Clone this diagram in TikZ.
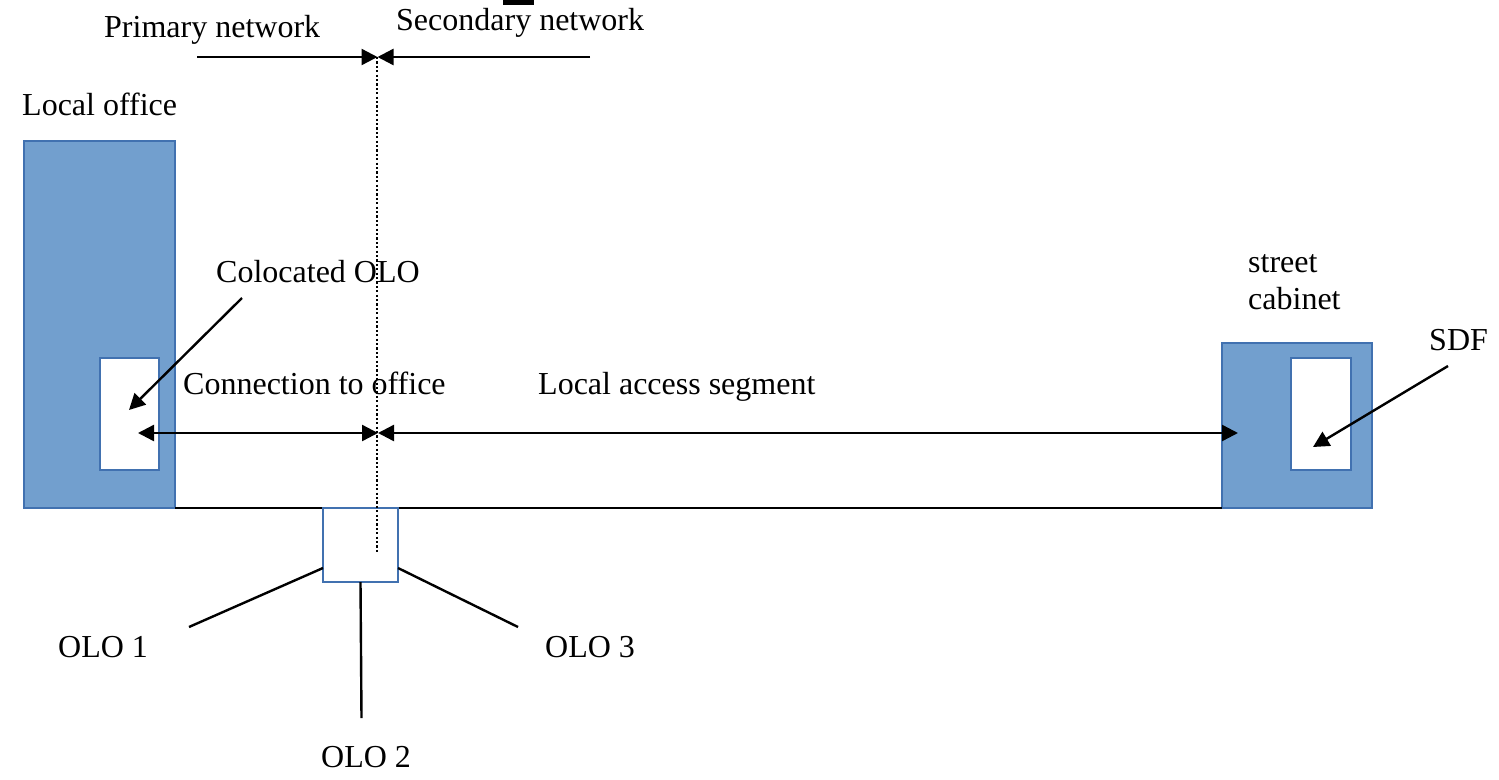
\documentclass[tikz,border=0pt]{standalone}
\usepackage{fontspec}
\setmainfont{Liberation Serif}
\usetikzlibrary{arrows.meta}
\definecolor{boxfill}{RGB}{114,159,206}
\definecolor{boxline}{RGB}{65,113,176}
\begin{document}
\begin{tikzpicture}[x=1pt,y=-1pt,
  lbl/.style={font=\fontsize{32}{38}\selectfont, inner sep=0pt, anchor=base west},
  site/.style={draw=boxline, fill=boxfill, line width=2pt, inner sep=0pt, outer sep=0pt, anchor=north west},
  frame/.style={draw=boxline, fill=white, line width=2pt, inner sep=0pt, outer sep=0pt, anchor=north west},
  wire/.style={line width=2.4pt},
  tipped/.style={-{Triangle[length=16pt,width=16pt]}},
  bothtipped/.style={{Triangle[length=16pt,width=16pt]}-{Triangle[length=16pt,width=16pt]}},
  divider/.style={line width=2.2pt, dash pattern=on 2.2pt off 2.2pt},
]
\useasboundingbox (0,0) rectangle (1499,779);

% clipped glyph remnant at the top edge
\fill (503,0) rectangle (534,5);

% headings
\node[lbl] (prim) at (104,37.5) {Primary network};
\node[lbl] (sec) at (396,30) {Secondary network};
\node[lbl] (lo) at (22,115) {Local office};

% local office and street cabinet
\node[site, minimum width=151pt, minimum height=367pt] (office) at (24,141) {};
\node[frame, minimum width=59pt, minimum height=112pt] (colo) at (100,358) {};
\node[site, minimum width=150pt, minimum height=165pt] (cab) at (1222,343) {};
\node[frame, minimum width=60pt, minimum height=112pt] (sdf) at (1291,358) {};

% cable between office and cabinet
\draw[wire] (office.south east) -- (cab.south west);

% distribution point on the cable
\node[frame, minimum width=75pt, minimum height=74pt] (hub) at (323,508) {};

% boundary between primary and secondary network
\coordinate (divtop) at (377,57);
\coordinate (divbot) at (377,553);
\draw[divider] (divtop) -- (divbot);

% network arrows at the top
\coordinate (pl) at (197,57);
\coordinate (pr) at (590,57);
\coordinate (pm) at (377.5,57);
\draw[wire,tipped] (pl) -- (pm);
\draw[wire,tipped] (pr) -- (pm);

% segment arrows
\coordinate (cl) at (138,433);
\coordinate (cm) at (378,433);
\coordinate (cr) at (1238,433);
\draw[wire,bothtipped] (cl) -- (cm);
\draw[wire,bothtipped] (cm) -- (cr);

\node[lbl] (conn) at (183,394) {Connection to office};
\node[lbl] (las) at (538,394) {Local access segment};

% colocated OLO pointer
\node[lbl] (colab) at (216,282) {Colocated OLO};
\coordinate (cotail) at (242,298);
\coordinate (cohead) at (129,410);
\draw[wire,tipped] (cotail) -- (cohead);

% street cabinet labels and SDF pointer
\node[lbl] (st) at (1248,272) {street};
\node[lbl] (stc) at (1248,309) {cabinet};
\node[lbl] (sdflab) at (1429,350) {SDF};
\coordinate (sdtail) at (1448,366);
\coordinate (sdhead) at (1313,447);
\draw[wire,tipped] (sdtail) -- (sdhead);

% branches to the operators
\coordinate (e1) at (189,627);
\coordinate (e2) at (361.5,718);
\coordinate (e3) at (518,627);
\draw[wire] ([yshift=14pt]hub.south west) -- (e1);
\draw[wire] (hub.south) -- (e2);
\draw[wire] ([yshift=14pt]hub.south east) -- (e3);

\node[lbl] (olo1) at (58,657) {OLO 1};
\node[lbl] (olo3) at (545,657) {OLO 3};
\node[lbl] (olo2) at (321,767) {OLO 2};
\end{tikzpicture}
\end{document}
